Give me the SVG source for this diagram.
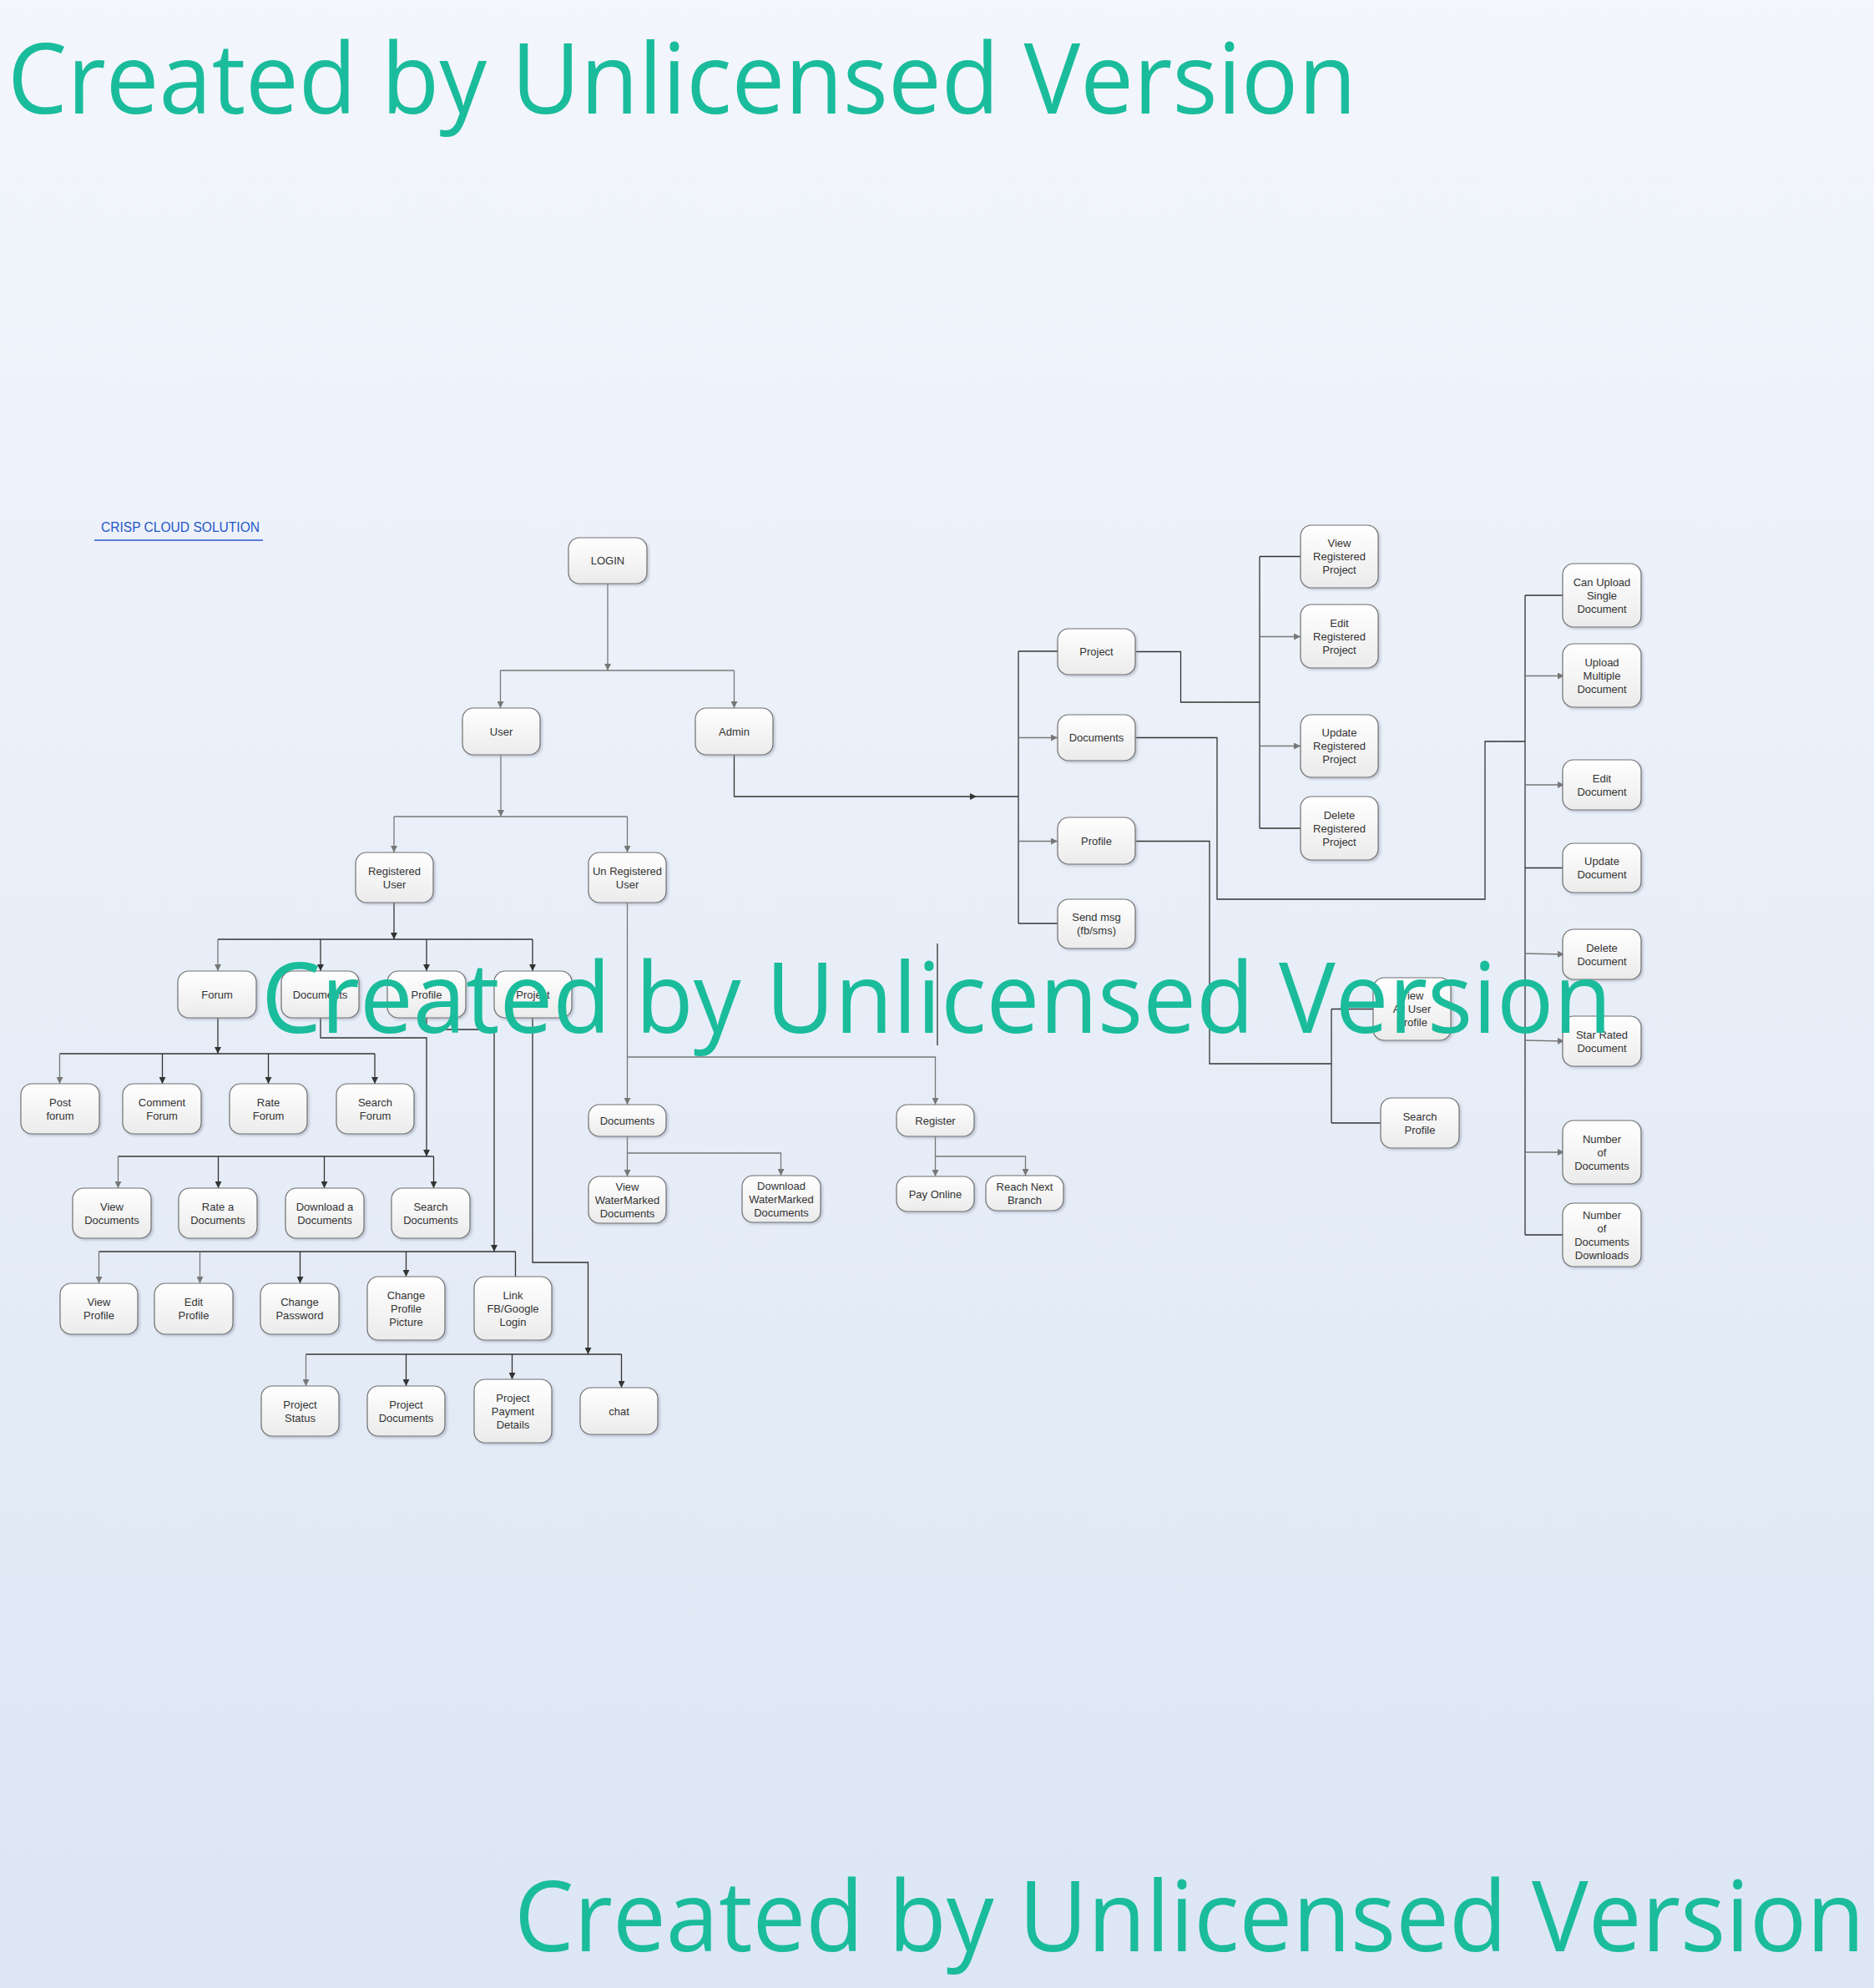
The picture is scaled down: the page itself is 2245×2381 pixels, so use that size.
<svg xmlns="http://www.w3.org/2000/svg" width="2245" height="2381" viewBox="0 0 2245 2381">
<defs>
<linearGradient id="bg" x1="0" y1="0" x2="0" y2="1">
<stop offset="0" stop-color="#f3f6fc"/>
<stop offset="1" stop-color="#dce6f4"/>
</linearGradient>
<linearGradient id="nf" x1="0" y1="0" x2="0" y2="1">
<stop offset="0" stop-color="#ffffff"/>
<stop offset="1" stop-color="#ebebeb"/>
</linearGradient>
<filter id="sh" x="-20%" y="-20%" width="150%" height="150%">
<feDropShadow dx="2" dy="2" stdDeviation="1.5" flood-color="#8a93a3" flood-opacity="0.45"/>
</filter>
<marker id="ad" viewBox="0 0 10 10" refX="10" refY="5" markerWidth="8" markerHeight="8" markerUnits="userSpaceOnUse" orient="auto">
<path d="M0,0 L10,5 L0,10 z" fill="#333"/>
</marker>
<marker id="ag" viewBox="0 0 10 10" refX="10" refY="5" markerWidth="8" markerHeight="8" markerUnits="userSpaceOnUse" orient="auto">
<path d="M0,0 L10,5 L0,10 z" fill="#777"/>
</marker>
</defs>
<style>
.n rect{fill:url(#nf);stroke:#707070;stroke-width:1.2;filter:url(#sh)}
.n text{font-family:"Liberation Sans",Arial,sans-serif;font-size:13px;fill:#333;text-anchor:middle}
.c path{fill:none;stroke-width:1.3}
.d{stroke:#333}
.g{stroke:#777}
.wm{font-family:"Open Sans","Noto Sans",sans-serif;font-size:118px;fill:#1abc9c}
</style>
<rect x="0" y="0" width="2245" height="2381" fill="url(#bg)"/>

<g id="title">
<text x="121" y="637" font-family="Liberation Sans, Arial, sans-serif" font-size="16" fill="#2456c8" textLength="190" lengthAdjust="spacingAndGlyphs">CRISP CLOUD SOLUTION</text>
<line x1="113" y1="647" x2="315" y2="647" stroke="#2456c8" stroke-width="1.5"/>
</g>

<g id="connectors" class="c">
<path class="g" d="M728,699 V803" marker-end="url(#ag)"/>
<path class="g" d="M599.5,803 H879.5"/>
<path class="g" d="M599.5,803 V848" marker-end="url(#ag)"/>
<path class="g" d="M879.5,803 V848" marker-end="url(#ag)"/>
<path class="g" d="M600,904 V978" marker-end="url(#ag)"/>
<path class="g" d="M472,978 H751.5"/>
<path class="g" d="M472,978 V1021" marker-end="url(#ag)"/>
<path class="g" d="M751.5,978 V1021" marker-end="url(#ag)"/>
<path class="d" d="M472,1081 V1125" marker-end="url(#ad)"/>
<path class="d" d="M261,1125 H638"/>
<path class="g" d="M261,1125 V1163" marker-end="url(#ag)"/>
<path class="d" d="M384,1125 V1163" marker-end="url(#ad)"/>
<path class="d" d="M511,1125 V1163" marker-end="url(#ad)"/>
<path class="d" d="M638,1125 V1163" marker-end="url(#ad)"/>
<path class="d" d="M261,1219 V1262" marker-end="url(#ad)"/>
<path class="d" d="M71.5,1262 H449"/>
<path class="g" d="M71.5,1262 V1298" marker-end="url(#ag)"/>
<path class="d" d="M194.5,1262 V1298" marker-end="url(#ad)"/>
<path class="d" d="M321.5,1262 V1298" marker-end="url(#ad)"/>
<path class="d" d="M449,1262 V1298" marker-end="url(#ad)"/>
<path class="d" d="M384,1219 V1243 H511 V1385" marker-end="url(#ad)"/>
<path class="d" d="M141.5,1385 H519.5"/>
<path class="g" d="M141.5,1385 V1423" marker-end="url(#ag)"/>
<path class="d" d="M261.5,1385 V1423" marker-end="url(#ad)"/>
<path class="d" d="M388.5,1385 V1423" marker-end="url(#ad)"/>
<path class="d" d="M519.5,1385 V1423" marker-end="url(#ad)"/>
<path class="d" d="M511,1219 V1233 H592 V1499" marker-end="url(#ad)"/>
<path class="d" d="M118.5,1499 H617.5"/>
<path class="g" d="M118.5,1499 V1537" marker-end="url(#ag)"/>
<path class="g" d="M239.5,1499 V1537" marker-end="url(#ag)"/>
<path class="d" d="M359.5,1499 V1537" marker-end="url(#ad)"/>
<path class="d" d="M486.5,1499 V1529" marker-end="url(#ad)"/>
<path class="d" d="M617.5,1499 V1529"/>
<path class="d" d="M638,1219 V1512 H704.5 V1622" marker-end="url(#ad)"/>
<path class="d" d="M366.5,1622 H744.5"/>
<path class="g" d="M366.5,1622 V1660" marker-end="url(#ag)"/>
<path class="d" d="M486.5,1622 V1660" marker-end="url(#ad)"/>
<path class="d" d="M613.5,1622 V1652" marker-end="url(#ad)"/>
<path class="d" d="M744.5,1622 V1662" marker-end="url(#ad)"/>
<path class="g" d="M751.5,1081 V1323" marker-end="url(#ag)"/>
<path class="g" d="M751.5,1266 H1120.5 V1323" marker-end="url(#ag)"/>
<path class="g" d="M751.5,1361 V1409" marker-end="url(#ag)"/>
<path class="g" d="M751.5,1381 H935.5 V1408" marker-end="url(#ag)"/>
<path class="g" d="M1120.5,1361 V1409" marker-end="url(#ag)"/>
<path class="g" d="M1120.5,1385 H1228.5 V1408" marker-end="url(#ag)"/>
<path class="d" d="M1123,1130 V1252"/>
<path class="d" d="M879.5,904 V954 H1170" marker-end="url(#ad)"/>
<path class="d" d="M1170,954 H1220"/>
<path class="d" d="M1220,780 V1106"/>
<path class="d" d="M1220,780 H1267"/>
<path class="g" d="M1220,883.5 H1267" marker-end="url(#ag)"/>
<path class="g" d="M1220,1007.5 H1267" marker-end="url(#ag)"/>
<path class="d" d="M1220,1106 H1267"/>
<path class="d" d="M1360.5,780.5 H1414.5 V841 H1509"/>
<path class="d" d="M1509,666.5 V992"/>
<path class="d" d="M1509,666.5 H1558"/>
<path class="g" d="M1509,762.5 H1558" marker-end="url(#ag)"/>
<path class="g" d="M1509,893.5 H1558" marker-end="url(#ag)"/>
<path class="d" d="M1509,992 H1558"/>
<path class="d" d="M1360.5,883.5 H1458 V1077 H1779 V888 H1827"/>
<path class="d" d="M1827,713 V1479"/>
<path class="d" d="M1827,713 H1874"/>
<path class="g" d="M1827,809.5 H1874" marker-end="url(#ag)"/>
<path class="g" d="M1827,940 H1874" marker-end="url(#ag)"/>
<path class="d" d="M1827,1039.5 H1874"/>
<path class="g" d="M1827,1142 L1874,1143" marker-end="url(#ag)"/>
<path class="g" d="M1827,1246 L1874,1247" marker-end="url(#ag)"/>
<path class="g" d="M1827,1380 H1874" marker-end="url(#ag)"/>
<path class="d" d="M1827,1479 H1874"/>
<path class="d" d="M1360.5,1007.5 H1449 V1274 H1595"/>
<path class="d" d="M1595,1208.5 V1345"/>
<path class="d" d="M1595,1208.5 H1645"/>
<path class="d" d="M1595,1345 H1654"/>
</g>

<g id="n-login" class="n"><rect x="681" y="644" width="94" height="55" rx="13"/><text x="728" y="676">LOGIN</text></g>
<g id="n-user" class="n"><rect x="554" y="848" width="93" height="56" rx="13"/><text x="600.5" y="880.5">User</text></g>
<g id="n-admin" class="n"><rect x="833" y="848" width="93" height="56" rx="13"/><text x="879.5" y="880.5">Admin</text></g>
<g id="n-reguser" class="n"><rect x="426" y="1021" width="93" height="60" rx="13"/><text x="472.5" y="1047.5">Registered<tspan x="472.5" dy="16">User</tspan></text></g>
<g id="n-unreguser" class="n"><rect x="705" y="1021" width="93" height="60" rx="13"/><text x="751.5" y="1047.5">Un Registered<tspan x="751.5" dy="16">User</tspan></text></g>
<g id="n-forum" class="n"><rect x="213" y="1163" width="94" height="56" rx="13"/><text x="260" y="1195.5">Forum</text></g>
<g id="n-documents" class="n"><rect x="337" y="1163" width="93" height="56" rx="13"/><text x="383.5" y="1195.5">Documents</text></g>
<g id="n-profile" class="n"><rect x="464" y="1163" width="94" height="56" rx="13"/><text x="511" y="1195.5">Profile</text></g>
<g id="n-project" class="n"><rect x="592" y="1163" width="93" height="56" rx="13"/><text x="638.5" y="1195.5">Project</text></g>
<g id="n-postforum" class="n"><rect x="25" y="1298" width="94" height="60" rx="13"/><text x="72" y="1324.5">Post<tspan x="72" dy="16">forum</tspan></text></g>
<g id="n-commentforum" class="n"><rect x="147" y="1298" width="94" height="60" rx="13"/><text x="194" y="1324.5">Comment<tspan x="194" dy="16">Forum</tspan></text></g>
<g id="n-rateforum" class="n"><rect x="275" y="1298" width="93" height="60" rx="13"/><text x="321.5" y="1324.5">Rate<tspan x="321.5" dy="16">Forum</tspan></text></g>
<g id="n-searchforum" class="n"><rect x="403" y="1298" width="93" height="60" rx="13"/><text x="449.5" y="1324.5">Search<tspan x="449.5" dy="16">Forum</tspan></text></g>
<g id="n-viewdocs" class="n"><rect x="87" y="1423" width="94" height="60" rx="13"/><text x="134" y="1449.5">View<tspan x="134" dy="16">Documents</tspan></text></g>
<g id="n-ratedocs" class="n"><rect x="214" y="1423" width="94" height="60" rx="13"/><text x="261" y="1449.5">Rate a<tspan x="261" dy="16">Documents</tspan></text></g>
<g id="n-downloaddocs" class="n"><rect x="342" y="1423" width="94" height="60" rx="13"/><text x="389" y="1449.5">Download a<tspan x="389" dy="16">Documents</tspan></text></g>
<g id="n-searchdocs" class="n"><rect x="469" y="1423" width="94" height="60" rx="13"/><text x="516" y="1449.5">Search<tspan x="516" dy="16">Documents</tspan></text></g>
<g id="n-viewprofile" class="n"><rect x="72" y="1537" width="93" height="61" rx="13"/><text x="118.5" y="1564">View<tspan x="118.5" dy="16">Profile</tspan></text></g>
<g id="n-editprofile" class="n"><rect x="185" y="1537" width="94" height="61" rx="13"/><text x="232" y="1564">Edit<tspan x="232" dy="16">Profile</tspan></text></g>
<g id="n-changepassword" class="n"><rect x="312" y="1537" width="94" height="61" rx="13"/><text x="359" y="1564">Change<tspan x="359" dy="16">Password</tspan></text></g>
<g id="n-changepic" class="n"><rect x="440" y="1529" width="93" height="76" rx="13"/><text x="486.5" y="1555.5">Change<tspan x="486.5" dy="16">Profile</tspan><tspan x="486.5" dy="16">Picture</tspan></text></g>
<g id="n-linkfb" class="n"><rect x="568" y="1529" width="93" height="76" rx="13"/><text x="614.5" y="1555.5">Link<tspan x="614.5" dy="16">FB/Google</tspan><tspan x="614.5" dy="16">Login</tspan></text></g>
<g id="n-projectstatus" class="n"><rect x="313" y="1660" width="93" height="60" rx="13"/><text x="359.5" y="1686.5">Project<tspan x="359.5" dy="16">Status</tspan></text></g>
<g id="n-projectdocs" class="n"><rect x="440" y="1660" width="93" height="60" rx="13"/><text x="486.5" y="1686.5">Project<tspan x="486.5" dy="16">Documents</tspan></text></g>
<g id="n-projectpayment" class="n"><rect x="568" y="1652" width="93" height="76" rx="13"/><text x="614.5" y="1678.5">Project<tspan x="614.5" dy="16">Payment</tspan><tspan x="614.5" dy="16">Details</tspan></text></g>
<g id="n-chat" class="n"><rect x="695" y="1662" width="93" height="56" rx="13"/><text x="741.5" y="1694.5">chat</text></g>
<g id="n-urdocuments" class="n"><rect x="705" y="1323" width="93" height="38" rx="13"/><text x="751.5" y="1346.5">Documents</text></g>
<g id="n-register" class="n"><rect x="1074" y="1323" width="93" height="38" rx="13"/><text x="1120.5" y="1346.5">Register</text></g>
<g id="n-viewwm" class="n"><rect x="705" y="1409" width="93" height="56" rx="13"/><text x="751.5" y="1425.5">View<tspan x="751.5" dy="16">WaterMarked</tspan><tspan x="751.5" dy="16">Documents</tspan></text></g>
<g id="n-downloadwm" class="n"><rect x="889" y="1408" width="94" height="56" rx="13"/><text x="936" y="1424.5">Download<tspan x="936" dy="16">WaterMarked</tspan><tspan x="936" dy="16">Documents</tspan></text></g>
<g id="n-payonline" class="n"><rect x="1074" y="1409" width="93" height="42" rx="13"/><text x="1120.5" y="1434.5">Pay Online</text></g>
<g id="n-reachbranch" class="n"><rect x="1181" y="1408" width="93" height="42" rx="13"/><text x="1227.5" y="1425.5">Reach Next<tspan x="1227.5" dy="16">Branch</tspan></text></g>
<g id="n-aproject" class="n"><rect x="1267" y="753" width="93" height="55" rx="13"/><text x="1313.5" y="785">Project</text></g>
<g id="n-adocuments" class="n"><rect x="1267" y="856" width="93" height="55" rx="13"/><text x="1313.5" y="888">Documents</text></g>
<g id="n-aprofile" class="n"><rect x="1267" y="979" width="93" height="56" rx="13"/><text x="1313.5" y="1011.5">Profile</text></g>
<g id="n-sendmsg" class="n"><rect x="1267" y="1077" width="93" height="59" rx="13"/><text x="1313.5" y="1103">Send msg<tspan x="1313.5" dy="16">(fb/sms)</tspan></text></g>
<g id="n-viewregproj" class="n"><rect x="1558" y="629" width="93" height="75" rx="13"/><text x="1604.5" y="655">View<tspan x="1604.5" dy="16">Registered</tspan><tspan x="1604.5" dy="16">Project</tspan></text></g>
<g id="n-editregproj" class="n"><rect x="1558" y="724" width="93" height="76" rx="13"/><text x="1604.5" y="750.5">Edit<tspan x="1604.5" dy="16">Registered</tspan><tspan x="1604.5" dy="16">Project</tspan></text></g>
<g id="n-updateregproj" class="n"><rect x="1558" y="856" width="93" height="75" rx="13"/><text x="1604.5" y="882">Update<tspan x="1604.5" dy="16">Registered</tspan><tspan x="1604.5" dy="16">Project</tspan></text></g>
<g id="n-deleteregproj" class="n"><rect x="1558" y="954" width="93" height="76" rx="13"/><text x="1604.5" y="980.5">Delete<tspan x="1604.5" dy="16">Registered</tspan><tspan x="1604.5" dy="16">Project</tspan></text></g>
<g id="n-uploadsingle" class="n"><rect x="1872" y="675" width="94" height="76" rx="13"/><text x="1919" y="701.5">Can Upload<tspan x="1919" dy="16">Single</tspan><tspan x="1919" dy="16">Document</tspan></text></g>
<g id="n-uploadmultiple" class="n"><rect x="1872" y="771" width="94" height="76" rx="13"/><text x="1919" y="797.5">Upload<tspan x="1919" dy="16">Multiple</tspan><tspan x="1919" dy="16">Document</tspan></text></g>
<g id="n-editdoc" class="n"><rect x="1872" y="910" width="94" height="60" rx="13"/><text x="1919" y="936.5">Edit<tspan x="1919" dy="16">Document</tspan></text></g>
<g id="n-updatedoc" class="n"><rect x="1872" y="1010" width="94" height="59" rx="13"/><text x="1919" y="1036">Update<tspan x="1919" dy="16">Document</tspan></text></g>
<g id="n-deletedoc" class="n"><rect x="1872" y="1113" width="94" height="60" rx="13"/><text x="1919" y="1139.5">Delete<tspan x="1919" dy="16">Document</tspan></text></g>
<g id="n-starrated" class="n"><rect x="1872" y="1217" width="94" height="60" rx="13"/><text x="1919" y="1243.5">Star Rated<tspan x="1919" dy="16">Document</tspan></text></g>
<g id="n-numdocs" class="n"><rect x="1872" y="1342" width="94" height="76" rx="13"/><text x="1919" y="1368.5">Number<tspan x="1919" dy="16">of</tspan><tspan x="1919" dy="16">Documents</tspan></text></g>
<g id="n-numdownloads" class="n"><rect x="1872" y="1441" width="94" height="76" rx="13"/><text x="1919" y="1459.5">Number<tspan x="1919" dy="16">of</tspan><tspan x="1919" dy="16">Documents</tspan><tspan x="1919" dy="16">Downloads</tspan></text></g>
<g id="n-viewalluser" class="n"><rect x="1645" y="1171" width="93" height="75" rx="13"/><text x="1691.5" y="1197">View<tspan x="1691.5" dy="16">All User</tspan><tspan x="1691.5" dy="16">Profile</tspan></text></g>
<g id="n-searchprofile" class="n"><rect x="1654" y="1315" width="94" height="60" rx="13"/><text x="1701" y="1341.5">Search<tspan x="1701" dy="16">Profile</tspan></text></g>

<g id="watermarks">
<text class="wm" x="9" y="136" textLength="1616" lengthAdjust="spacingAndGlyphs">Created by Unlicensed Version</text>
<text class="wm" x="313" y="1237" textLength="1618" lengthAdjust="spacingAndGlyphs">Created by Unlicensed Version</text>
<text class="wm" x="616" y="2337" textLength="1618" lengthAdjust="spacingAndGlyphs">Created by Unlicensed Version</text>
</g>
</svg>
